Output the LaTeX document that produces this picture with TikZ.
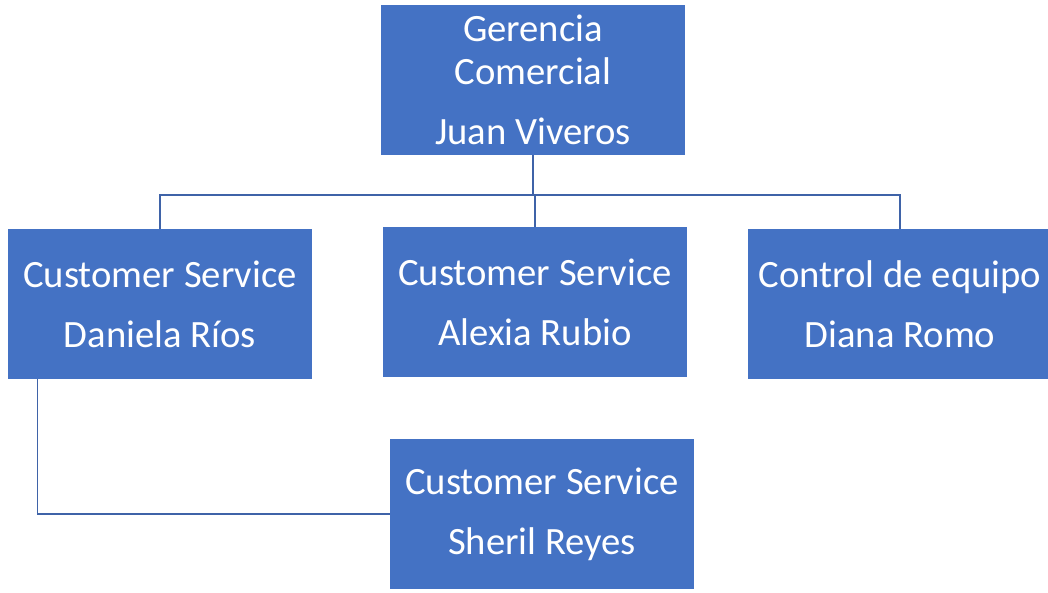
\documentclass[tikz,border=0pt]{standalone}
\usepackage{fontspec}
\setmainfont{Carlito}
\usetikzlibrary{positioning}

\definecolor{cajaazul}{HTML}{4472C4}
\definecolor{lineaazul}{HTML}{3F63A8}

\begin{document}
\begin{tikzpicture}[x=0.75pt,y=-0.75pt,inner sep=0pt,
    puesto/.style={rectangle,fill=cajaazul,text=white,minimum width=228pt,
      minimum height=112.5pt,align=center,font=\fontsize{29}{45}\selectfont},
    enlace/.style={draw=lineaazul,line width=1.1pt}]
    \useasboundingbox (0,0) rectangle (1048,592);
    \node[puesto] (gerencia) at (533,80) {Gerencia\\[-13pt]Comercial\\Juan Viveros};
    \node[puesto] (daniela) at (160,304) {Customer Service\\Daniela Ríos};
    \node[puesto] (alexia) at (535,302) {Customer Service\\Alexia Rubio};
    \node[puesto] (diana) at (900,304) {Control de equipo\\Diana Romo};
    \node[puesto] (sheril) at (542,514) {Customer Service\\Sheril Reyes};
    \coordinate (bus) at (533,195);
    \draw[enlace] (gerencia.south) -- (bus);
    \draw[enlace] (daniela.north) |- (bus) -| (diana.north);
    \draw[enlace] (alexia.north) -- (alexia.north |- bus);
    \draw[enlace] ([xshift=22.5pt]daniela.south west) |- (sheril.west);
  \end{tikzpicture}
\end{document}
